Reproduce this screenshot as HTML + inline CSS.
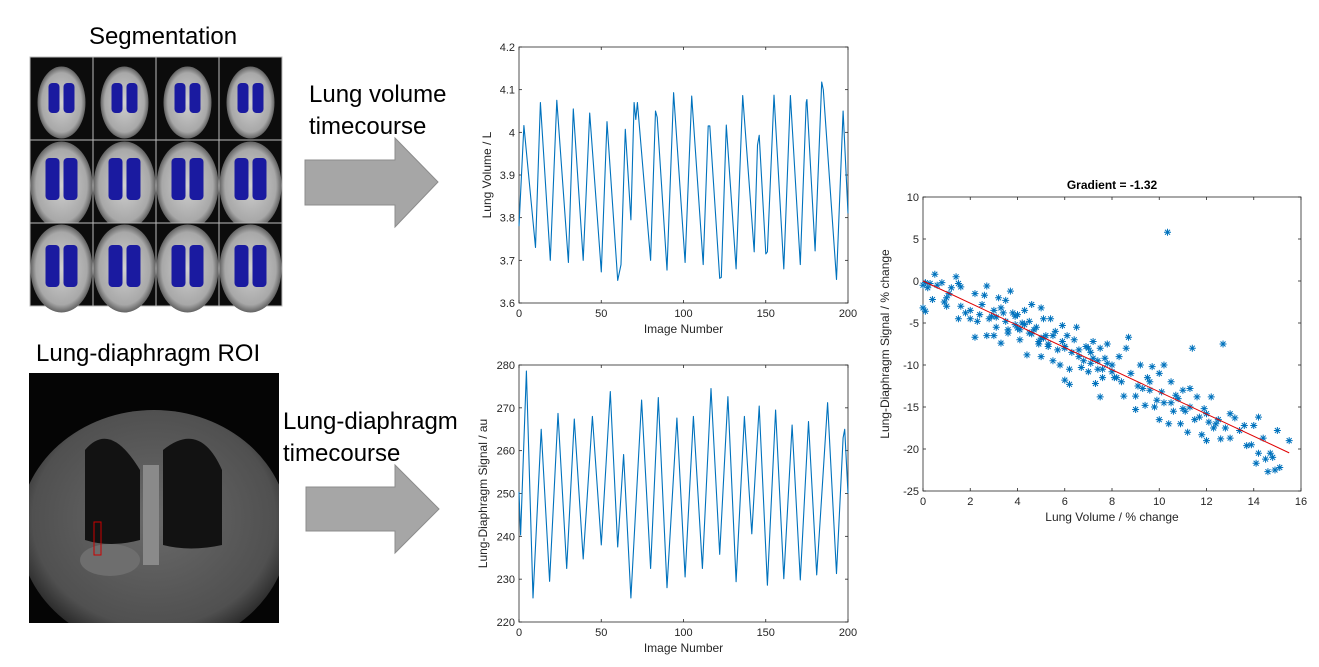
<!DOCTYPE html>
<html><head><meta charset="utf-8"><style>
html,body{margin:0;padding:0;background:#fff;width:1319px;height:667px;overflow:hidden;font-family:"Liberation Sans",Arial,sans-serif}
svg{position:absolute;left:0;top:0}
</style></head><body>
<svg id="root" width="1319" height="667" viewBox="0 0 1319 667" xmlns="http://www.w3.org/2000/svg">
<defs>
<radialGradient id="body" cx="50%" cy="50%" r="55%"><stop offset="0" stop-color="#d0d0d0"/><stop offset="0.75" stop-color="#a8a8a8"/><stop offset="1" stop-color="#3a3a3a"/></radialGradient>
<radialGradient id="roiBody" cx="50%" cy="45%" r="60%"><stop offset="0" stop-color="#6a6a6a"/><stop offset="0.75" stop-color="#505050"/><stop offset="1" stop-color="#111"/></radialGradient>
<clipPath id="roiClip"><rect x="29" y="373" width="250" height="250"/></clipPath>
</defs>
<text x="163" y="44" font-size="24" text-anchor="middle" fill="#000">Segmentation</text>
<g id="grid"></g>
<text x="309" y="102" font-size="24" fill="#000">Lung volume</text>
<text x="309" y="134" font-size="24" fill="#000">timecourse</text>
<polygon points="305,160 395,160 395,138 438,182 395,227 395,205 305,205" fill="#a6a6a6" stroke="#8c8c8c" stroke-width="1"/>
<text x="36" y="361" font-size="24" fill="#000">Lung-diaphragm ROI</text>
<g clip-path="url(#roiClip)">
<rect x="29" y="373" width="250" height="250" fill="#050505"/>
<ellipse cx="154" cy="530" rx="135" ry="120" fill="url(#roiBody)"/>
<path d="M85,450 Q110,420 140,470 L140,540 Q110,548 85,540 Z" fill="#121212"/>
<path d="M163,450 Q200,420 222,470 L222,545 Q190,552 163,545 Z" fill="#121212"/>
<rect x="143" y="465" width="16" height="100" fill="#8a8a8a"/>
<ellipse cx="110" cy="560" rx="30" ry="16" fill="#6e6e6e"/>
<rect x="94" y="522" width="7" height="33" fill="none" stroke="#c00" stroke-width="1"/>
</g>
<text x="283" y="429" font-size="24" fill="#000">Lung-diaphragm</text>
<text x="283" y="461" font-size="24" fill="#000">timecourse</text>
<polygon points="306,487 395,487 395,465 439,509 395,553 395,531 306,531" fill="#a6a6a6" stroke="#8c8c8c" stroke-width="1"/>
<g id="c1"></g><g id="c2"></g><g id="c3"></g>
</svg>
<script>
// ---- data ----
const volIdx = [0,3,10,13,19,23,30,33,39,43,50,53.5,60,62,64.6,68,70,71,72,80,83,84,90,94,101,105,112,115,116,122,123,126,132,136,143,145,146,150,151,155,161,165,171,174.6,175,180,184,185,193,197,200];
const volVal = [3.78,4.016,3.73,4.07,3.70,4.075,3.695,4.055,3.70,4.045,3.673,4.025,3.653,3.69,4.007,3.795,4.07,4.03,4.07,3.70,4.05,4.035,3.677,4.093,3.695,4.085,3.69,4.015,4.015,3.658,3.66,4.017,3.68,4.086,3.72,3.97,3.993,3.715,3.72,4.087,3.68,4.086,3.69,4.07,4.077,3.722,4.118,4.10,3.655,4.05,3.81];
const sigIdx = [0,1,4.5,8.5,13.5,18.6,23.7,29,33.6,39,44.6,50,55.5,60,63.6,68,74.5,80,84.7,90,96,101,106,111.5,116.7,122,127,132,137,141.5,146,151,156,161,166,171,176,181,187.6,193,197,198,200];
const sigVal = [250.4,240.3,278.6,225.6,265,229.5,268.7,232.5,267.4,234.7,268,238,273.8,237.5,259.1,225.6,271.8,232.5,272.4,228,267.6,230.5,268,232.5,274.5,235.8,272.6,229.4,268,240.6,270.4,228.6,269.5,230.1,266,229.8,266.8,231,271.2,231.3,263,265,250];
const xTicksTS = [0,50,100,150,200];
const volTicks = [3.6,3.7,3.8,3.9,4,4.1,4.2];
const volTickLabels = ["3.6","3.7","3.8","3.9","4","4.1","4.2"];
const sigTicks = [220,230,240,250,260,270,280];
const scX = [0,0.1,0,0.1,0.2,0.5,0.4,0.6,0.8,0.9,1,1.1,1.2,1.4,1.5,1.6,1.5,1.6,1.8,2,2.2,2.2,2.4,2.5,2.6,2.7,2.7,2.8,3,3,3.2,3.3,3.3,3.5,3.5,3.6,3.7,3.8,3.9,4,4.1,4.2,4.3,4.4,4.5,4.6,4.6,4.8,4.9,5,5,5.1,5.2,5.3,5.4,5.5,5.6,5.8,5.9,6,6,6.1,6.2,6.2,6.4,6.5,6.6,6.7,6.9,7,7.1,7.2,7.3,7.4,7.5,7.5,7.6,7.7,7.8,8,8.1,8.3,8.5,8.6,8.7,8.8,9,9,9.1,9.2,9.4,9.5,9.6,9.7,9.8,10,10,10.2,10.35,10.2,10.4,10.5,10.6,10.8,10.9,11,11.1,11.2,11.3,11.4,11.5,11.6,11.8,11.9,12,12.1,12.2,12.3,12.5,12.6,12.7,12.8,13,13,13.2,13.4,13.6,13.7,13.9,14,14.1,14.2,14.2,14.4,14.5,14.6,14.7,14.8,14.9,15,15.1,15.5,
 2.0,2.3,2.9,3.1,3.4,3.6,3.9,4.1,4.3,4.5,4.7,4.9,5.1,5.3,5.5,5.7,5.9,6.3,6.6,6.8,7.0,7.2,7.4,7.6,7.8,8.2,8.4,9.3,9.6,9.9,10.1,10.5,10.7,11.0,11.3,11.7,12.0,12.4,0.3,1.0,3.1,4.0,5.0,6.0,7.1,8.0];
const scY = [-3.2,-3.6,-0.5,-0.2,-0.8,0.8,-2.2,-0.5,-0.2,-2.5,-3,-1.5,-0.8,0.5,-0.3,-0.7,-4.5,-3,-3.8,-4.5,-1.5,-6.7,-4,-2.8,-1.7,-0.6,-6.5,-4.5,-3.5,-6.5,-2,-3.2,-7.4,-2.3,-4.8,-6.2,-1.2,-3.8,-5.2,-4,-7,-5,-3.5,-8.8,-4.8,-2.8,-6.3,-5.5,-7.5,-3.2,-9,-4.5,-6.5,-7.8,-4.5,-9.5,-6,-10,-5.3,-11.8,-8,-6.5,-12.3,-10.5,-7,-5.5,-9,-10.3,-7.8,-10.8,-8.5,-7.2,-12.2,-10.5,-13.8,-8,-11.5,-9.2,-7.5,-10,-11.5,-9,-13.7,-8,-6.7,-11,-15.3,-13.7,-12.5,-10,-14.8,-11.5,-13,-10.2,-15,-11,-16.5,-14.5,5.8,-10,-17,-12,-15.5,-14,-17,-13,-15.5,-18,-12.8,-8,-16.5,-13.8,-18.3,-15.2,-19,-16.8,-13.8,-17.5,-16.5,-18.8,-7.5,-17.5,-18.7,-15.8,-16.3,-17.8,-17.2,-19.6,-19.5,-17.2,-21.7,-16.2,-20.5,-18.7,-21.2,-22.7,-20.5,-21,-22.5,-17.8,-22.2,-19,
 -3.5,-4.8,-4.2,-5.5,-3.8,-5.8,-4.2,-5.8,-5.2,-6.2,-5.8,-7.2,-6.8,-7.5,-6.5,-8.2,-7.2,-8.5,-8.2,-9.5,-8,-9.2,-9.5,-10.5,-9.8,-11.5,-12,-12.8,-12,-14.2,-13.2,-14.5,-13.6,-15.2,-15,-16.2,-15.8,-17,-0.3,-2,-4.3,-5.6,-6.8,-7.8,-9.8,-10.8];
const fitSlope = -1.32;
const fitIntercept = 0;
const fitRange = [0,15.5];
const scXTicks = [0,2,4,6,8,10,12,14,16];
const scYTicks = [-25,-20,-15,-10,-5,0,5,10];

const NS="http://www.w3.org/2000/svg";
function mk(parent,tag,attrs){const e=document.createElementNS(NS,tag);for(const k in attrs)e.setAttribute(k,attrs[k]);parent.appendChild(e);return e;}

// segmentation grid
const g=document.getElementById('grid');
const gx0=30,gy0=57,cw=63,ch=83;
for(let r=0;r<3;r++)for(let c=0;c<4;c++){
  const x=gx0+c*cw,y=gy0+r*ch;
  const cell=mk(g,'g',{});
  
  
  mk(cell,'rect',{x:x,y:y,width:cw,height:ch,fill:'#0c0c0c',stroke:'#bbb','stroke-width':1});
  const rw=r===0?24:31;
  mk(cell,'ellipse',{cx:x+cw/2,cy:y+ch/2+(r===0?4:4),rx:rw,ry:r===0?36:44,fill:'url(#body)'});
  const lw=r===0?11:14, lh=r===0?30:(r===1?42:42), ly=y+(r===0?26:(r===1?18:22));
  mk(cell,'rect',{x:x+cw/2-lw-2,y:ly,width:lw,height:lh,rx:4,fill:'#1a1aa0'});
  mk(cell,'rect',{x:x+cw/2+2,y:ly,width:lw,height:lh,rx:4,fill:'#1a1aa0'});
}

function axes(gid,box,xd,yd,xt,xtl,yt,ytl,xlab,ylab){
  const G=document.getElementById(gid);
  const sx=v=>box.x0+(v-xd[0])/(xd[1]-xd[0])*(box.x1-box.x0);
  const sy=v=>box.y1-(v-yd[0])/(yd[1]-yd[0])*(box.y1-box.y0);
  const bg=mk(G,'rect',{x:box.x0,y:box.y0,width:box.x1-box.x0,height:box.y1-box.y0,fill:'#fff',stroke:'#262626','stroke-width':0.8});
  
  
  xt.forEach((v,i)=>{const X=sx(v);
    mk(G,'line',{x1:X,x2:X,y1:box.y1,y2:box.y1-3,stroke:'#262626','stroke-width':0.8});
    mk(G,'line',{x1:X,x2:X,y1:box.y0,y2:box.y0+3,stroke:'#262626','stroke-width':0.8});
    const t=mk(G,'text',{x:X,y:box.y1+14,'font-size':11,'text-anchor':'middle',fill:'#262626'});t.textContent=xtl[i];
    
    });
  yt.forEach((v,i)=>{const Y=sy(v);
    mk(G,'line',{x1:box.x0,x2:box.x0+3,y1:Y,y2:Y,stroke:'#262626','stroke-width':0.8});
    mk(G,'line',{x1:box.x1,x2:box.x1-3,y1:Y,y2:Y,stroke:'#262626','stroke-width':0.8});
    const t=mk(G,'text',{x:box.x0-4,y:Y+4,'font-size':11,'text-anchor':'end',fill:'#262626'});t.textContent=ytl[i];
    
    });
  const xl=mk(G,'text',{x:(box.x0+box.x1)/2,y:box.y1+30,'font-size':12,'text-anchor':'middle',fill:'#262626'});xl.textContent=xlab;
  
  
  const yx=box.ylx, yy=(box.y0+box.y1)/2;
  const yl=mk(G,'text',{x:yx,y:yy,'font-size':12,'text-anchor':'middle',fill:'#262626',transform:`rotate(-90 ${yx} ${yy})`});yl.textContent=ylab;
  
  
  return {G,sx,sy};
}
function line(ax,xs,ys,name){
  const d=xs.map((v,i)=>(i?'L':'M')+ax.sx(v).toFixed(1)+','+ax.sy(ys[i]).toFixed(1)).join('');
  const p=mk(ax.G,'path',{d:d,fill:'none',stroke:'#0072BD','stroke-width':1.1,'stroke-linejoin':'round'});
  
  
}
const a1=axes('c1',{x0:519,x1:848,y0:47,y1:303,ylx:491},[0,200],[3.6,4.2],xTicksTS,xTicksTS.map(String),volTicks,volTickLabels,'Image Number','Lung Volume / L');
line(a1,volIdx,volVal,'lung-volume-line');
const a2=axes('c2',{x0:519,x1:848,y0:365,y1:622,ylx:487},[0,200],[220,280],xTicksTS,xTicksTS.map(String),sigTicks,sigTicks.map(String),'Image Number','Lung-Diaphragm Signal / au');
line(a2,sigIdx,sigVal,'diaphragm-signal-line');
const a3=axes('c3',{x0:923,x1:1301,y0:197,y1:491,ylx:889},[0,16],[-25,10],scXTicks,scXTicks.map(String),scYTicks,scYTicks.map(String),'Lung Volume / % change','Lung-Diaphragm Signal / % change');
const title=mk(a3.G,'text',{x:1112,y:189,'font-size':12,'font-weight':'bold','text-anchor':'middle',fill:'#000'});
title.textContent='Gradient = -1.32';


scX.forEach((v,i)=>{
  const X=a3.sx(v),Y=a3.sy(scY[i]),r=3.5,q=2.5;
  const m=mk(a3.G,'path',{d:`M${X-r},${Y}L${X+r},${Y}M${X},${Y-r}L${X},${Y+r}M${X-q},${Y-q}L${X+q},${Y+q}M${X-q},${Y+q}L${X+q},${Y-q}`,stroke:'#0072BD','stroke-width':1});
  
  
});
const fl=mk(a3.G,'line',{x1:a3.sx(fitRange[0]),y1:a3.sy(fitIntercept+fitSlope*fitRange[0]),x2:a3.sx(fitRange[1]),y2:a3.sy(fitIntercept+fitSlope*fitRange[1]),stroke:'#e00000','stroke-width':1});


</script>
</body></html>
